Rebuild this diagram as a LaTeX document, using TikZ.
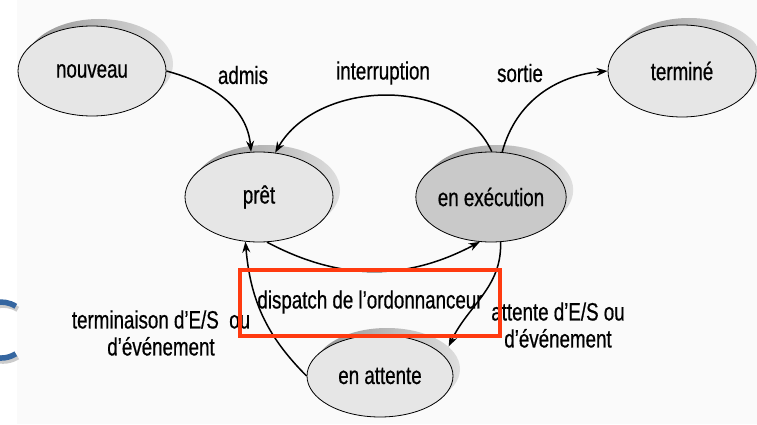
\documentclass[tikz,border=0pt]{standalone}
\usepackage{fontspec}
\setmainfont{Liberation Sans}[FakeStretch=0.75, FakeBold=0.6]
\usetikzlibrary{arrows.meta,shapes.geometric,shadows}

\definecolor{etatclair}{HTML}{E6E6E6}
\definecolor{etatfonce}{HTML}{C9C9C9}
\definecolor{cadre}{HTML}{FF3A10}
\definecolor{bleu}{HTML}{3566A0}
\definecolor{fond}{HTML}{FAFAFA}

\begin{document}
\begin{tikzpicture}[x=1pt,y=1pt,
	every node/.style={font=\fontsize{25}{27}\selectfont},
	etat/.style={ellipse, draw, line width=0.8pt, fill=etatclair, inner sep=0pt,
		minimum width=148pt, minimum height=90pt,
		general shadow={shadow xshift=7pt, shadow yshift=7pt,
			left color=gray!85, right color=gray!25}},
	>={Stealth[length=11pt,width=8pt]}]
	\path[use as bounding box] (0,0) rectangle (757,424);
	\clip (0,0) rectangle (757,424);
	\fill[fond] (17,0) rectangle (757,424);

	% bout de lettre bleue a gauche
	\draw[gray!40, line width=5.5pt] (17.8,114.7) arc[start angle=58, end angle=302, radius=28];
	\draw[bleu, line width=5.5pt] (15.8,117.7) arc[start angle=58, end angle=302, radius=28];

	% etats
	\node[etat] (nouveau) at (92,353) {nouveau};
	\node[etat] (pret) at (259,227) {prêt};
	\node[etat, fill=etatfonce] (exec) at (491,227) {en exécution};
	\node[etat, minimum height=92pt] (termine) at (682,353) {terminé};
	\node[etat, minimum width=146pt, minimum height=82pt] (attente) at (380,48) {en attente};

	% transitions
	\path[->, line width=1.5pt]
	(nouveau.east) edge [out=-15, in=95] (pret.100)
	(exec.89) edge [out=115, in=60] (pret.70)
	(exec.76) edge [out=75, in=185] (termine.west)
	(pret.-80) edge [out=-28, in=-152] (exec.-104)
	(exec.-78) edge [out=-88, in=65] ([xshift=7pt, yshift=7pt]attente.20)
	(attente.west) edge [out=135, in=-85] (pret.-107);

	\node (admis) at (243,349) {admis};
	\node (interr) at (383,351) {interruption};
	\node (sortie) at (520,351) {sortie};
	\node (dispatch) at (370,122) {dispatch de l'ordonnanceur};
	\node[align=center] (fin-es) at (161,91) {terminaison d'E/S~ ou\\d'événement};
	\node[align=center] (att-es) at (558,99) {attente d'E/S ou\\d'événement};

	% cadre rouge
	\draw[cadre, line width=4.5pt] (240,154) rectangle (500,88);
\end{tikzpicture}
\end{document}
